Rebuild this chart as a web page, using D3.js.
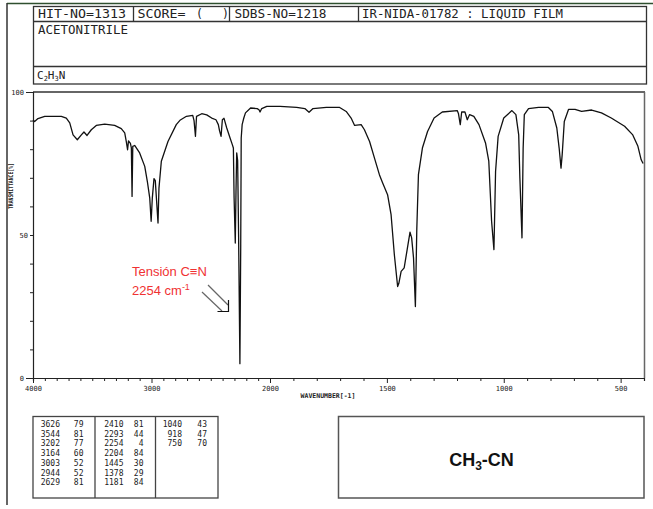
<!DOCTYPE html>
<html><head><meta charset="utf-8">
<script src="https://cdn.jsdelivr.net/npm/d3@7/dist/d3.min.js"></script>
<style>html,body{margin:0;padding:0;background:#fff;}svg{display:block;}</style>
</head><body>
<script>
// ---- data ----
const wavenumbers = [4000,3986,3958,3901,3761,3719,3690,3662,3626,3592,3570,3544,3508,3466,3395,3311,3255,3226,3213,3202,3194,3178,3170,3164,3158,3142,3100,3057,3035,3015,3003,2993,2979,2968,2945,2937,2917,2861,2791,2760,2705,2652,2641,2629,2620,2576,2534,2492,2456,2436,2426,2413,2402,2388,2365,2337,2318,2309,2303,2293,2287,2281,2273,2265,2254,2247,2243,2235,2221,2207,2164,2108,2093,2084,2070,2027,1957,1886,1851,1833,1816,1759,1702,1674,1653,1638,1610,1596,1574,1553,1532,1518,1497,1482,1468,1454,1449,1439,1426,1412,1401,1394,1386,1378,1372,1365,1348,1326,1298,1263,1199,1194,1186,1180,1166,1156,1146,1128,1106,1078,1064,1052,1042,1035,1024,1000,965,948,936,931,922,917,912,894,851,809,792,773,763,755,750,741,723,695,667,624,582,540,483,448,426,412,404];
const transmittance = [90.2,89.7,90.7,91.5,91.5,90.9,89.2,85,83.3,85,86,84.8,86.8,88.3,88.8,88.3,87.2,85.7,82.7,79.8,82.9,82,80.5,63.5,81,81.3,78.7,74,68.7,63,54.8,63,69.7,69,54.2,66.4,75.8,82.7,88.6,90.1,91.5,91.8,90,84.5,91.5,92.4,92,90.9,90.3,88.6,86.5,84.5,90.3,90.8,87.4,83.9,81.6,80.4,63,47.2,65,78.7,76,50,5,46.6,83.9,88.6,90.9,92.7,94.4,94.2,93.8,93,94.2,95,95,94.6,94.2,92.9,94.2,94.6,94.6,93.2,90.9,88.3,88.6,86.8,82.7,76.9,71.1,68.2,64.1,57.1,43.1,32,33,37.3,38.5,45.5,51,49,42,25,52,71.1,80.4,86.2,90.9,93,93.5,92.5,88.6,93,93,90.3,92.1,91.5,88.6,82.2,75.8,54.8,44.9,72.2,84.5,90.9,93.5,92.1,85,69.9,49,80.4,92.1,94.2,94.6,94.6,93.2,87.4,80.4,73.4,78.1,89.7,93.9,93.9,93.2,93.7,92.7,90.9,88,85,81,76.3,75];

const xTickLabels = [4000,3000,2000,1500,1000,500];
const yTickLabels = [0,50,100];

const peakWn = [3626,3544,3202,3164,3003,2944,2629,2410,2293,2254,2204,1445,1378,1181,1040,918,750];
const peakT  = [79,81,77,60,52,52,81,81,44,4,84,30,29,84,43,47,70];

const headerCells = ["HIT-NO=1313","SCORE=","SDBS-NO=1218","IR-NIDA-01782 : LIQUID FILM"];
const compoundName = "ACETONITRILE";

// ---- drawing ----
const W = 653, H = 509;
const svg = d3.select("body").append("svg").attr("width", W).attr("height", H);

const x = d3.scaleLinear().domain([4000, 2000, 400]).range([33, 270, 644]);
const y = d3.scaleLinear().domain([0, 100]).range([378, 92]);

const mono = "'DejaVu Sans Mono', 'Liberation Mono', monospace";

// outer frame
svg.append("line").attr("x1", 7).attr("x2", 653).attr("y1", 3.5).attr("y2", 3.5)
  .attr("stroke", "#2f4f2f").attr("stroke-width", 1.5);
svg.append("line").attr("x1", 7).attr("x2", 7).attr("y1", 3).attr("y2", 505)
  .attr("stroke", "#333").attr("stroke-width", 1.5);

// header table
const hdr = svg.append("g");
hdr.append("rect").attr("x", 33.5).attr("y", 6.5).attr("width", 613).attr("height", 77.5)
  .attr("fill", "none").attr("stroke", "#333").attr("stroke-width", 1.3);
[21.5, 66.5].forEach(yy => hdr.append("line").attr("x1", 33.5).attr("x2", 646.5)
  .attr("y1", yy).attr("y2", yy).attr("stroke", "#333").attr("stroke-width", 1.3));
[133.5, 229.5, 358.5].forEach(xx => hdr.append("line").attr("x1", xx).attr("x2", xx)
  .attr("y1", 6.5).attr("y2", 21.5).attr("stroke", "#333").attr("stroke-width", 1.3));
const hdrPos = [[38, 88], [137.5, 48], [234.5, 92], [362, 201]];
headerCells.forEach((t, i) => hdr.append("text").attr("x", hdrPos[i][0]).attr("y", 18)
  .attr("font-family", mono).attr("font-size", 11.5)
  .attr("textLength", hdrPos[i][1]).attr("lengthAdjust", "spacingAndGlyphs")
  .attr("fill", "#222").text(t));
hdr.append("text").attr("x", 196).attr("y", 18).attr("font-family", mono).attr("font-size", 11.5).attr("fill", "#222").text("(");
hdr.append("text").attr("x", 222).attr("y", 18).attr("font-family", mono).attr("font-size", 11.5).attr("fill", "#222").text(")");
hdr.append("text").attr("x", 38).attr("y", 34).attr("font-family", mono).attr("font-size", 11.5)
  .attr("textLength", 90).attr("lengthAdjust", "spacingAndGlyphs").attr("fill", "#222").text(compoundName);
const f = hdr.append("text").attr("x", 37).attr("y", 79).attr("font-family", mono).attr("font-size", 11).attr("fill", "#222");
f.append("tspan").text("C");
f.append("tspan").attr("font-size", 7).attr("dy", 2).text("2");
f.append("tspan").attr("dy", -2).text("H");
f.append("tspan").attr("font-size", 7).attr("dy", 2).text("3");
f.append("tspan").attr("dy", -2).text("N");

// plot frame
const g = svg.append("g");
g.append("line").attr("x1", 33).attr("x2", 645).attr("y1", 92).attr("y2", 92)
  .attr("stroke", "#666").attr("stroke-width", 2);
g.append("line").attr("x1", 644.5).attr("x2", 644.5).attr("y1", 92).attr("y2", 378)
  .attr("stroke", "#666").attr("stroke-width", 1.5);

// y axis
const yAxis = d3.axisLeft(y).tickValues(d3.range(0, 101, 10)).tickSize(3)
  .tickFormat(d => yTickLabels.includes(d) ? d : "").tickPadding(4);
const ya = g.append("g").attr("transform", "translate(33,0)").call(yAxis);
ya.select(".domain").attr("stroke", "#222").attr("stroke-width", 1.2);
ya.selectAll(".tick line").attr("stroke", "#222")
  .attr("x2", d => (d === 0 || d === 100) ? -7 : -3);
ya.selectAll(".tick text").attr("font-family", mono).attr("font-size", 7).attr("fill", "#222")
  .attr("x", d => (d === 0 || d === 100) ? -9 : -5);

// x axis
const xTicks = d3.range(4000, 399, -100);
const xAxis = d3.axisBottom(x).tickValues(xTicks).tickSize(3)
  .tickFormat(d => xTickLabels.includes(d) ? d : "").tickPadding(5);
const xa = g.append("g").attr("transform", "translate(0,378)").call(xAxis);
xa.select(".domain").attr("stroke", "#222").attr("stroke-width", 1.2);
xa.selectAll(".tick line").attr("stroke", "#222")
  .attr("y2", d => xTickLabels.includes(d) ? 5 : 3);
xa.selectAll(".tick text").attr("font-family", mono).attr("font-size", 7).attr("fill", "#222");

g.append("text").attr("x", 328).attr("y", 398).attr("text-anchor", "middle")
  .attr("font-family", mono).attr("font-size", 6.5).attr("font-weight", "bold").attr("fill", "#222")
  .text("WAVENUMBER[-1]");
g.append("text").attr("transform", "translate(13,186) rotate(-90)").attr("text-anchor", "middle")
  .attr("font-family", mono).attr("font-size", 6.5).attr("font-weight", "bold").attr("fill", "#222")
  .attr("textLength", 46).attr("lengthAdjust", "spacingAndGlyphs")
  .text("TRANSMITTANCE[%]");

// spectrum
const pts = wavenumbers.map((w, i) => [w, transmittance[i]]);
const line = d3.line().x(d => x(d[0])).y(d => y(d[1]));
g.append("path").datum(pts).attr("d", line).attr("fill", "none")
  .attr("stroke", "#111").attr("stroke-width", 1.3).attr("stroke-linejoin", "round");

// annotation
const red = "#f03232";
const ann = svg.append("g").attr("font-family", "'Liberation Sans', Arial, sans-serif").attr("font-size", 13).attr("fill", red);
ann.append("text").attr("x", 132).attr("y", 276).text("Tensión C\u2261N");
const a2 = ann.append("text").attr("x", 132).attr("y", 295);
a2.append("tspan").text("2254 cm");
a2.append("tspan").attr("font-size", 9).attr("dy", -5).text("-1");
// double arrow
svg.append("line").attr("x1", 208).attr("y1", 285).attr("x2", 228).attr("y2", 305).attr("stroke", "#666").attr("stroke-width", 1.2);
svg.append("line").attr("x1", 202).attr("y1", 292).attr("x2", 222).attr("y2", 311).attr("stroke", "#666").attr("stroke-width", 1.2);
svg.append("path").attr("d", "M228.5,300 L228.5,311.5 L217.5,311.5").attr("fill", "none").attr("stroke", "#111").attr("stroke-width", 1.2);

// peak table
const tb = svg.append("g");
tb.append("rect").attr("x", 33).attr("y", 416.5).attr("width", 185).attr("height", 81.5)
  .attr("fill", "none").attr("stroke", "#444").attr("stroke-width", 1.3);
[95, 155.5].forEach(xx => tb.append("line").attr("x1", xx).attr("x2", xx).attr("y1", 416.5).attr("y2", 498)
  .attr("stroke", "#444").attr("stroke-width", 1.3));
const colWnRight = [60, 123.5, 182];
const colTRight = [83.5, 143.5, 207];
peakWn.forEach((w, i) => {
  const c = Math.floor(i / 7), r = i % 7;
  const yy = 427 + r * 9.7;
  tb.append("text").attr("x", colWnRight[c]).attr("y", yy).attr("text-anchor", "end")
    .attr("font-family", mono).attr("font-size", 8).attr("fill", "#222").text(w);
  tb.append("text").attr("x", colTRight[c]).attr("y", yy).attr("text-anchor", "end")
    .attr("font-family", mono).attr("font-size", 8).attr("fill", "#222").text(peakT[i]);
});

// structure box
const sb = svg.append("g");
sb.append("rect").attr("x", 338.5).attr("y", 416.5).attr("width", 305.5).attr("height", 81.5)
  .attr("fill", "none").attr("stroke", "#555").attr("stroke-width", 1.5);
const st = sb.append("text").attr("x", 481.5).attr("y", 466).attr("text-anchor", "middle")
  .attr("font-family", "'Liberation Sans', Arial, sans-serif").attr("font-weight", "bold").attr("font-size", 18).attr("fill", "#111");
st.append("tspan").text("CH");
st.append("tspan").attr("font-size", 12).attr("dy", 4).text("3");
st.append("tspan").attr("dy", -4).text("-CN");
</script>
</body></html>
